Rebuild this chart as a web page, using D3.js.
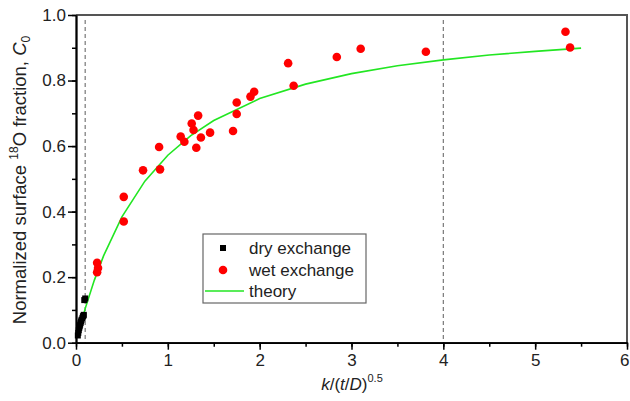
<!DOCTYPE html>
<html><head><meta charset="utf-8">
<script src="https://cdn.jsdelivr.net/npm/d3@7"></script>
<style>body{margin:0;background:#fff}svg{display:block}text{font-family:"Liberation Sans",Arial,sans-serif}</style>
</head><body><svg id="c" width="630" height="401"></svg>
<script>
const dryX = [0.02,0.025,0.03,0.035,0.04,0.045,0.05,0.055,0.06,0.07,0.075,0.08,0.085,0.09,0.10];
const dryY = [0.022,0.03,0.038,0.045,0.05,0.055,0.06,0.065,0.07,0.075,0.08,0.082,0.085,0.13,0.135];
const wetX = [0.23,0.24,0.23,0.52,0.52,0.73,0.905,0.915,1.14,1.18,1.26,1.28,1.33,1.31,1.36,1.46,1.71,1.75,1.75,1.90,1.94,2.31,2.37,2.84,3.10,3.81,5.33,5.38];
const wetY = [0.244,0.228,0.215,0.37,0.445,0.526,0.597,0.529,0.629,0.613,0.669,0.649,0.693,0.595,0.626,0.641,0.646,0.733,0.698,0.751,0.766,0.853,0.784,0.872,0.897,0.888,0.949,0.901];
const theoryX = [0.02,0.1,0.2,0.3,0.5,0.75,1.0,1.25,1.5,2.0,2.5,3.0,3.5,4.0,4.5,5.0,5.5];
const theoryY = [0.022,0.104,0.191,0.265,0.384,0.493,0.572,0.632,0.678,0.745,0.789,0.821,0.845,0.863,0.878,0.889,0.899];
const xTicks = [0,1,2,3,4,5,6];
const yTicks = [0.0,0.2,0.4,0.6,0.8,1.0];
const refLines = [0.1,4];
const legendLabels = ["dry exchange","wet exchange","theory"];

const svg = d3.select("#c");
const L=76,R=627,T=15,B=342.7;
const x = d3.scaleLinear().domain([0,6]).range([L,R]);
const y = d3.scaleLinear().domain([0,1]).range([B,T]);

svg.append("path").attr("d",`M${L},${T}H${R}V${B}`).attr("fill","none").attr("stroke","#555").attr("stroke-width",2);

svg.selectAll(".ref").data(refLines).join("line")
  .attr("x1",d=>x(d)).attr("x2",d=>x(d)).attr("y1",y(0.985)).attr("y2",B)
  .attr("stroke","#777").attr("stroke-width",1.2).attr("stroke-dasharray","4,3");

const xa = svg.append("g").attr("transform",`translate(0,${B})`);
xa.call(d3.axisBottom(x).tickValues(d3.range(0,6.01,0.5)).tickFormat("").tickSize(4).tickSizeOuter(0));
const xa2 = svg.append("g").attr("transform",`translate(0,${B})`);
xa2.call(d3.axisBottom(x).tickValues(xTicks).tickFormat(d3.format("d")).tickSize(7).tickSizeOuter(0).tickPadding(4));
const ya = svg.append("g").attr("transform",`translate(${L},0)`);
ya.call(d3.axisLeft(y).tickValues(d3.range(0,1.001,0.1)).tickFormat("").tickSize(4).tickSizeOuter(0));
const ya2 = svg.append("g").attr("transform",`translate(${L},0)`);
ya2.call(d3.axisLeft(y).tickValues(yTicks).tickFormat(d3.format(".1f")).tickSize(8).tickSizeOuter(0).tickPadding(2));
[xa,xa2,ya,ya2].forEach(g=>{
  g.selectAll("path.domain").attr("stroke","#000").attr("stroke-width",1.8);
  g.selectAll(".tick line").attr("stroke","#000").attr("stroke-width",1.5);
  g.selectAll("text").attr("font-size",17).attr("fill","#222").style("font-family","Liberation Sans, Arial, sans-serif");
});
xa2.selectAll(".tick text").filter(d=>d===6).attr("text-anchor","end").attr("dx",2);

svg.append("path").datum(theoryX.map((d,i)=>[d,theoryY[i]]))
  .attr("d",d3.line().x(d=>x(d[0])).y(d=>y(d[1])))
  .attr("fill","none").attr("stroke","#22e622").attr("stroke-width",1.6);

svg.selectAll(".dry").data(dryX.map((d,i)=>[d,dryY[i]])).join("rect")
  .attr("x",d=>x(d[0])-3).attr("y",d=>y(d[1])-3).attr("width",6).attr("height",6).attr("fill","#000");

svg.selectAll(".wet").data(wetX.map((d,i)=>[d,wetY[i]])).join("circle")
  .attr("cx",d=>x(d[0])).attr("cy",d=>y(d[1])).attr("r",4.3).attr("fill","#ff0000");

const lg = svg.append("g");
lg.append("rect").attr("x",203).attr("y",234).attr("width",163).attr("height",69).attr("fill","#fff").attr("stroke","#666").attr("stroke-width",1.2);
lg.append("rect").attr("x",220).attr("y",245).attr("width",6).attr("height",6).attr("fill","#000");
lg.append("circle").attr("cx",223).attr("cy",270).attr("r",4.3).attr("fill","#ff0000");
lg.append("line").attr("x1",205).attr("x2",244).attr("y1",291).attr("y2",291).attr("stroke","#22e622").attr("stroke-width",1.6);
lg.selectAll(".lt").data(legendLabels).join("text")
  .attr("x",249).attr("y",(d,i)=>254+i*21.5).attr("font-size",17).attr("fill","#222").text(d=>d);

const xl = svg.append("text").attr("x",352).attr("y",390).attr("text-anchor","middle").attr("font-size",17).attr("fill","#222");
xl.append("tspan").attr("font-style","italic").text("k");
xl.append("tspan").text("/(");
xl.append("tspan").attr("font-style","italic").text("t");
xl.append("tspan").text("/");
xl.append("tspan").attr("font-style","italic").text("D");
xl.append("tspan").text(")");
xl.append("tspan").attr("font-size",11).attr("dy",-8).text("0.5");

const yl = svg.append("text").attr("transform","translate(26,180) rotate(-90)").attr("text-anchor","middle").attr("font-size",18.5).attr("fill","#222");
yl.append("tspan").text("Normalized surface ");
yl.append("tspan").attr("font-size",12).attr("dy",-8).text("18");
yl.append("tspan").attr("dy",8).text("O fraction, ");
yl.append("tspan").attr("font-style","italic").text("C");
yl.append("tspan").attr("font-size",12).attr("dy",4).text("0");
</script></body></html>
